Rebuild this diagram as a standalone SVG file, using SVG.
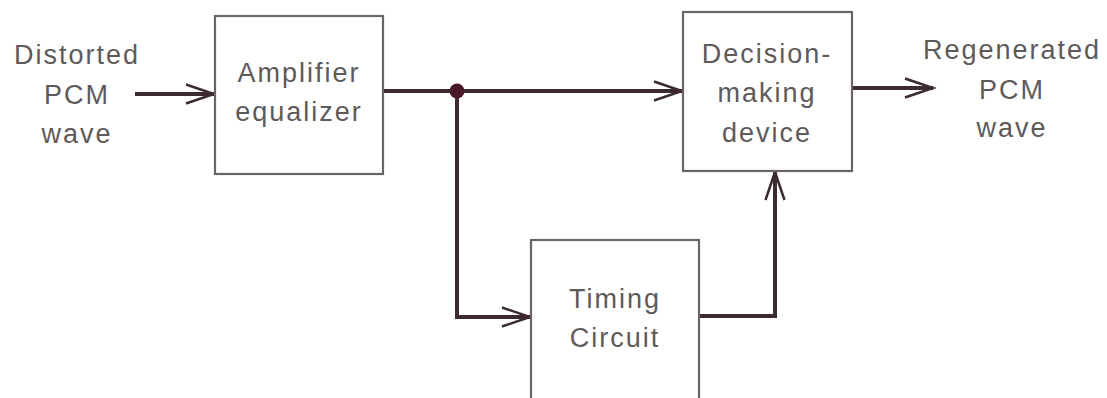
<svg xmlns="http://www.w3.org/2000/svg" width="1107" height="398" viewBox="0 0 1107 398">
<style>
.box{fill:#ffffff;stroke:#6a6464;stroke-width:2.2}
.t{font-family:"Liberation Sans",Arial,sans-serif;font-size:27px;fill:#5e5a5a;text-anchor:middle;letter-spacing:2px}
.w{fill:none;stroke:#3d2a2e;stroke-width:4;stroke-linejoin:miter}
</style>
<defs>
<marker id="ah" markerUnits="userSpaceOnUse" markerWidth="34" markerHeight="24" refX="30" refY="12" orient="auto">
<polyline points="2,2.5 30,12 2,21.5" fill="none" stroke="#3d2a2e" stroke-width="2.5"/>
</marker>
</defs>
<rect width="1107" height="398" fill="#ffffff"/>
<g id="connectors">
<line class="w" x1="135" y1="94" x2="214" y2="94" marker-end="url(#ah)"/>
<line class="w" x1="384" y1="91" x2="682" y2="91" marker-end="url(#ah)"/>
<polyline class="w" points="457,91 457,317 530,317" marker-end="url(#ah)"/>
<polyline class="w" points="700,316 775,316 775,172" marker-end="url(#ah)"/>
<line class="w" x1="853" y1="88" x2="933" y2="88" marker-end="url(#ah)"/>
<circle cx="457" cy="91" r="7.5" fill="#4a1a28"/>
</g>
<g id="input-label">
<text class="t" x="77" y="64">Distorted</text>
<text class="t" x="77" y="104">PCM</text>
<text class="t" x="77" y="143">wave</text>
</g>
<g id="amplifier">
<rect class="box" x="215" y="16" width="168" height="158"/>
<text class="t" x="299" y="82">Amplifier</text>
<text class="t" x="299" y="121">equalizer</text>
</g>
<g id="decision">
<rect class="box" x="683" y="12" width="169" height="159"/>
<text class="t" x="767" y="63">Decision-</text>
<text class="t" x="767" y="102">making</text>
<text class="t" x="767" y="142">device</text>
</g>
<g id="output-label">
<text class="t" x="1012" y="59">Regenerated</text>
<text class="t" x="1012" y="99">PCM</text>
<text class="t" x="1012" y="137">wave</text>
</g>
<g id="timing">
<rect class="box" x="531" y="240" width="168" height="170"/>
<text class="t" x="615" y="308">Timing</text>
<text class="t" x="615" y="347">Circuit</text>
</g>
</svg>
